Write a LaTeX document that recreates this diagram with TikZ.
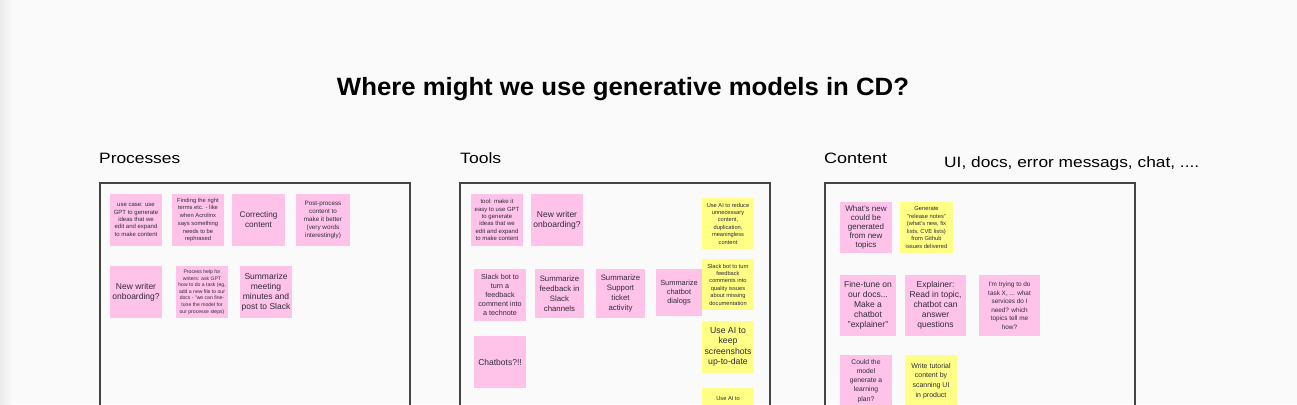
\documentclass[tikz,border=0pt]{standalone}
\usepackage{fontspec}
\usepackage{graphicx}
\setmainfont{Liberation Sans}
\newcommand\fsz[2]{\fontsize{#1}{#2}\selectfont}
\definecolor{bgc}{HTML}{FAFAFA}
\definecolor{pinkc}{HTML}{FFC3E9}
\definecolor{yelc}{HTML}{FFFF85}
\definecolor{txtc}{HTML}{2E2A3A}
\definecolor{framec}{HTML}{444444}
\tikzset{
  sticky/.style={rectangle, inner sep=0pt, align=center, text=txtc},
  pinkn/.style={sticky, fill=pinkc},
  yeln/.style={sticky, fill=yelc},
  frame/.style={draw=framec, line width=1.1pt},
  header/.style={anchor=base west, inner sep=0pt, text=black, font=\fsz{15}{18}},
}
\begin{document}
\begin{tikzpicture}[x=1pt,y=-1pt]
\useasboundingbox (0,0) rectangle (1297,404);
\fill[bgc] (0,0) rectangle (1297,404);
\shade[left color=black!8, right color=bgc] (0,0) rectangle (12,404);
\clip (0,0) rectangle (1297,404);

% title
\node[anchor=base, inner sep=0pt, font=\bfseries\fsz{25}{28}] (title) at (623,95.5)
  {\resizebox{572pt}{\height}{Where might we use generative models in CD?}};

% headers
\node[header] (hp) at (99,163) {\resizebox{81pt}{\height}{Processes}};
\node[header] (ht) at (460,163) {\resizebox{41pt}{\height}{Tools}};
\node[header] (hc) at (824,163) {\resizebox{63pt}{\height}{Content}};
\node[header] (hu) at (944,167) {\resizebox{255pt}{\height}{UI, docs, error messags, chat, ....}};

% frames
\draw[frame] (100,183) rectangle (410,430);
\draw[frame] (460,183) rectangle (770,430);
\draw[frame] (825,183) rectangle (1135,430);

% Processes
\node[pinkn, minimum width=52, minimum height=52, font=\fsz{6}{7.4}] (p1) at (136,220)
  {use case: use\\GPT to generate\\ideas that we\\edit and expand\\to make content};
\node[pinkn, minimum width=52, minimum height=52, font=\fsz{5.8}{7.7}] (p2) at (198,220)
  {Finding the right\\terms etc. - like\\when Acrolinx\\says something\\needs to be\\rephrased};
\node[pinkn, minimum width=53, minimum height=52, font=\fsz{8.2}{10}] (p3) at (258.5,220)
  {Correcting\\content};
\node[pinkn, minimum width=54, minimum height=52, font=\fsz{6.3}{8.2}] (p4) at (323,220)
  {Post-process\\content to\\make it better\\(very words\\interestingly)};
\node[pinkn, minimum width=52, minimum height=52, font=\fsz{8.5}{10}] (p5) at (136,292)
  {New writer\\onboarding?};
\node[pinkn, minimum width=52, minimum height=52, font=\fsz{5.1}{6.6}] (p6) at (202,292)
  {Process help for\\writers: ask GPT\\how to do a task (eg,\\add a new file to our\\docs - "we can fine-\\tune the model for\\our processe steps)};
\node[pinkn, minimum width=52, minimum height=52, font=\fsz{8.5}{10}] (p7) at (266,292)
  {Summarize\\meeting\\minutes and\\post to Slack};

% Tools
\node[pinkn, minimum width=52, minimum height=52, font=\fsz{6}{7.4}] (t1) at (497,220)
  {tool: make it\\easy to use GPT\\to generate\\ideas that we\\edit and expand\\to make content};
\node[pinkn, minimum width=52, minimum height=52, font=\fsz{8.5}{10}] (t2) at (557,220)
  {New writer\\onboarding?};
\node[yeln, minimum width=52, minimum height=51, font=\fsz{5.7}{7.4}] (t3) at (728,223.5)
  {Use AI to reduce\\unnecessary\\content,\\duplication,\\meaningless\\content};
\node[yeln, minimum width=52, minimum height=51, font=\fsz{5.7}{7.4}] (t4) at (728,284.5)
  {Slack bot to turn\\feedback\\comments into\\quality issues\\about missing\\documentation};
\node[pinkn, minimum width=52, minimum height=52, font=\fsz{7.2}{9.2}] (t5) at (500,295)
  {Slack bot to\\turn a\\feedback\\comment into\\a technote};
\node[pinkn, minimum width=49, minimum height=49, font=\fsz{7.8}{10}] (t6) at (559.5,293.5)
  {Summarize\\feedback in\\Slack\\channels};
\node[pinkn, minimum width=49, minimum height=49, font=\fsz{7.8}{10}] (t7) at (620.5,293.5)
  {Summarize\\Support\\ticket\\activity};
\node[pinkn, minimum width=46, minimum height=47, font=\fsz{7.4}{9.2}] (t8) at (679,292.5)
  {Summarize\\chatbot\\dialogs};
\node[pinkn, minimum width=52, minimum height=52, font=\fsz{8.5}{10}] (t9) at (500,362)
  {Chatbots?!!};
\node[yeln, minimum width=52, minimum height=52, font=\fsz{8.7}{10.6}] (t10) at (728,347)
  {Use AI to\\keep\\screenshots\\up-to-date};
\node[yeln, minimum width=52, minimum height=52] (t11) at (728,414) {};
\node[sticky, font=\fsz{5.7}{7.4}] (t11t) at (728,399) {Use AI to};

% Content
\node[pinkn, minimum width=52, minimum height=51, font=\fsz{8}{9.2}] (c1) at (866,227.5)
  {What's new\\could be\\generated\\from new\\topics};
\node[yeln, minimum width=53, minimum height=51, font=\fsz{5.8}{7.6}] (c2) at (926.5,227.5)
  {Generate\\"release notes"\\(what's new, fix\\lists, CVE lists)\\from Github\\issues delivered};
\node[pinkn, minimum width=56, minimum height=61, font=\fsz{8.5}{10}] (c3) at (868,305.5)
  {Fine-tune on\\our docs...\\Make a\\chatbot\\"explainer"};
\node[pinkn, minimum width=61, minimum height=61, font=\fsz{8.5}{10}] (c4) at (935.5,305.5)
  {Explainer:\\Read in topic,\\chatbot can\\answer\\questions};
\node[pinkn, minimum width=61, minimum height=61, font=\fsz{6.4}{8.5}] (c5) at (1009.5,305.5)
  {I'm trying to do\\task X, ... what\\services do I\\need? which\\topics tell me\\how?};
\node[pinkn, minimum width=52, minimum height=52, font=\fsz{6.8}{9.2}] (c6) at (866,381)
  {Could the\\model\\generate a\\learning\\plan?};
\node[yeln, minimum width=52, minimum height=52, font=\fsz{7}{9.8}] (c7) at (931,381)
  {Write tutorial\\content by\\scanning UI\\in product};
\end{tikzpicture}
\end{document}
